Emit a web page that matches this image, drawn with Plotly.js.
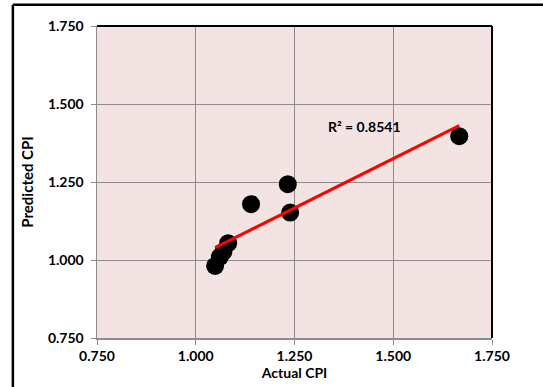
<!DOCTYPE html>
<html><head><meta charset="utf-8">
<script src="https://cdn.plot.ly/plotly-3.0.1.min.js"></script>
<style>html,body{margin:0;padding:0;background:#fff;}#chart{width:543px;height:387px;}</style>
</head><body><div id="chart"></div>
<script>
const actualCPI = [1.049, 1.061, 1.070, 1.082, 1.140, 1.233, 1.239, 1.667];
const predictedCPI = [0.981, 1.010, 1.027, 1.054, 1.179, 1.243, 1.152, 1.397];
const tickVals = [0.75, 1.0, 1.25, 1.5, 1.75];
const tickText = ['0.750', '1.000', '1.250', '1.500', '1.750'];
const r2Label = 'R² = 0.8541';

// least-squares trend line
const n = actualCPI.length;
const mx = actualCPI.reduce((a,b)=>a+b,0)/n;
const my = predictedCPI.reduce((a,b)=>a+b,0)/n;
let sxy=0, sxx=0;
for(let i=0;i<n;i++){sxy+=(actualCPI[i]-mx)*(predictedCPI[i]-my);sxx+=(actualCPI[i]-mx)**2;}
const slope = sxy/sxx, icpt = my - slope*mx;
const xmin = Math.min(...actualCPI), xmax = Math.max(...actualCPI);

const fam = 'Lato, "Open Sans", sans-serif';
const data = [
 {x:actualCPI, y:predictedCPI, mode:'markers', type:'scatter',
  marker:{color:'#000', size:18}, hoverinfo:'skip'},
 {x:[xmin,xmax], y:[icpt+slope*xmin, icpt+slope*xmax], mode:'lines', type:'scatter',
  line:{color:'#ff0000', width:3}, hoverinfo:'skip'}
];
const axisCommon = {range:[0.75,1.75], tickvals:tickVals, ticktext:tickText,
  showgrid:true, gridcolor:'#8c8c8c', gridwidth:1, zeroline:false,
  showline:true, linecolor:'#8c8c8c', linewidth:1.5, ticks:'outside', ticklen:5, tickcolor:'#8c8c8c',
  tickfont:{family:fam, size:14, color:'#000', weight:'bold'}};
const layout = {
 width:543, height:387, showlegend:false,
 margin:{l:97, r:51, t:26, b:49},
 paper_bgcolor:'#fff', plot_bgcolor:'#f3e3e3',
 font:{family:fam, size:14, color:'#000'},
 xaxis:Object.assign({}, axisCommon, {title:{text:'Actual CPI', standoff:0, font:{family:fam,size:14,color:'#000',weight:'bold'}}}),
 yaxis:Object.assign({}, axisCommon, {ticklabelstandoff:4, title:{text:'Predicted CPI', standoff:10, font:{family:fam,size:15,color:'#000',weight:'bold'}}}),
 annotations:[{x:1.428, y:1.428, xref:'x', yref:'y', text:r2Label, showarrow:false,
   font:{family:fam, size:14, color:'#000', weight:'bold'}}],
 shapes:[
  {type:'line', xref:'paper', yref:'paper', x0:0, x1:1, y0:1, y1:1, line:{color:'#000', width:2}},
  {type:'line', xref:'paper', yref:'paper', x0:1, x1:1, y0:0, y1:1, line:{color:'#000', width:2}},
  {type:'line', xref:'paper', yref:'paper', x0:-0.213, x1:1.2, y0:1.068, y1:1.068, line:{color:'#000', width:2.5}},
  {type:'line', xref:'paper', yref:'paper', x0:-0.213, x1:-0.213, y0:-0.2, y1:1.068, line:{color:'#000', width:2.5}}
 ]
};
Plotly.newPlot('chart', data, layout, {displayModeBar:false, staticPlot:true});
</script></body></html>
